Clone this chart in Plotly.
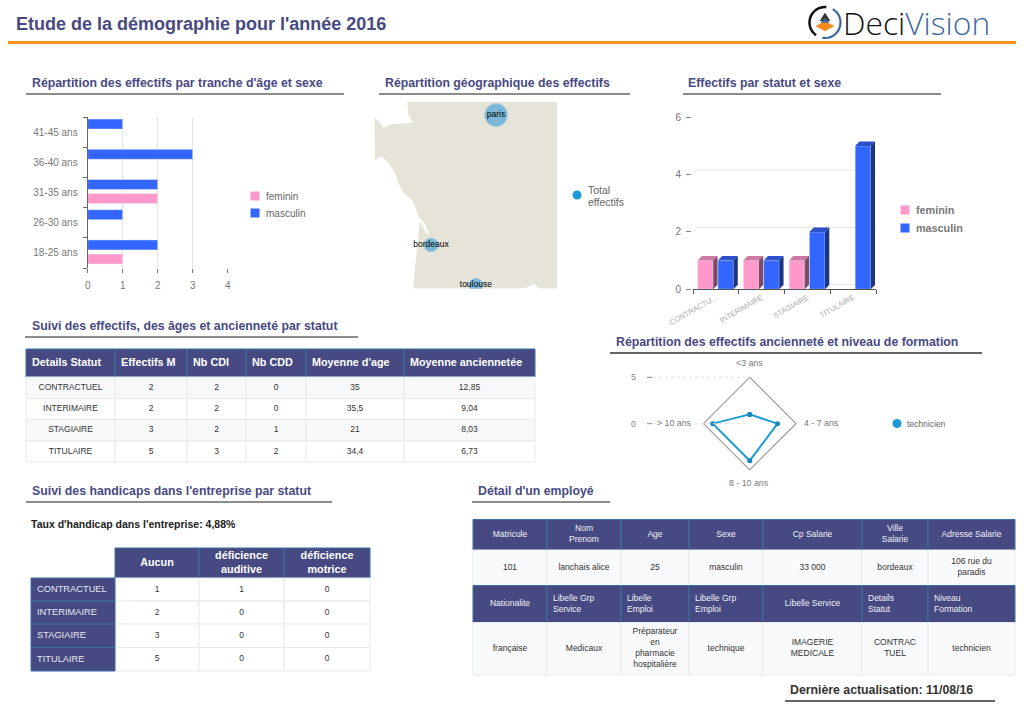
import math
import plotly.graph_objects as go

# ---------- data ----------
age_bands = ["18-25 ans", "26-30 ans", "31-35 ans", "36-40 ans", "41-45 ans"]
age_feminin = [1, None, 2, None, None]
age_masculin = [2, 1, 2, 3, 1]

city_names = ["paris", "bordeaux", "toulouse"]
city_lon = [2.35, -0.58, 1.44]
city_lat = [48.85, 44.84, 43.60]
city_total = [8, 3, 3]
land_lon = [-1.65, 5.11, 5.11, 4.33, 4.03, 3.73, 3.28, -1.38, -1.27, -1.14, -1.08, -0.75, -0.69, -0.85, -1.11,
            -1.23, -1.38, -1.83, -2.05, -2.20, -2.50, -2.80, -3.10, -3.13, -2.88, -2.73, -2.43, -1.38, -1.60, -1.65]
land_lat = [49.25, 49.25, 43.49, 43.49, 43.64, 43.53, 43.49, 43.49, 44.34, 45.26, 45.57, 45.16, 45.21, 45.49, 45.67,
            45.88, 46.19, 46.45, 46.75, 47.06, 47.37, 47.58, 47.47, 48.78, 48.61, 48.45, 48.57, 48.61, 48.86, 49.25]

statuts = ["CONTRACTUEL", "INTERIMAIRE", "STAGIAIRE", "TITULAIRE"]
statut_labels = ["CONTRACTU...", "INTERIMAIRE", "STAGIAIRE", "TITULAIRE"]
statut_feminin = [1, 1, 1, None]
statut_masculin = [1, 1, 2, 5]

radar_axes = ["<3 ans", "4 - 7 ans", "8 - 10 ans", "> 10 ans"]
radar_technicien = [1, 3, 4, 4]

t1_head = ["Details Statut", "Effectifs M", "Nb CDI", "Nb CDD", "Moyenne d'age", "Moyenne anciennetée"]
t1_effectifs = [2, 2, 3, 5]
t1_cdi = [2, 2, 2, 3]
t1_cdd = [0, 0, 1, 2]
t1_age = ["35", "35,5", "21", "34,4"]
t1_anc = ["12,85", "9,04", "8,03", "6,73"]

t2_head = ["Aucun", "déficience<br>auditive", "déficience<br>motrice"]
t2_aucun = [1, 2, 3, 5]
t2_auditive = [1, 0, 0, 0]
t2_motrice = [0, 0, 0, 0]

t3_head = ["Matricule", "Nom<br>Prenom", "Age", "Sexe", "Cp Salarie", "Ville<br>Salarie", "Adresse Salarie"]
t3_vals = ["101", "lanchais alice", "25", "masculin", "33 000", "bordeaux", "106 rue du<br>paradis"]
t4_head = ["Nationalite", "Libelle Grp<br>Service", "Libelle<br>Emploi", "Libelle Grp<br>Emploi",
           "Libelle Service", "Details<br>Statut", "Niveau<br>Formation"]
t4_vals = ["française", "Medicaux", "Préparateur<br>en<br>pharmacie<br>hospitalière", "technique",
           "IMAGERIE<br>MEDICALE", "CONTRAC<br>TUEL", "technicien"]

# ---------- style / layout ----------
W, H = 1024, 711
FONT = "Liberation Sans"
NAVY = "#474a82"
PINK = "#ff99cc"
BLUE = "#3366ff"
CYAN = "#1a9ad6"
HEADLINE = "#3a6f9f"
GRIDC = "#e6e6e6"
CELLLINE = "#eaeaea"


def fx(p):
    return p / W


def fy(p):
    return 1 - p / H


annotations, shapes = [], []


def text(x, y, s, size=10, color="#666666", bold=False, anchor="left"):
    dx = -1 if anchor == "left" else (1 if anchor == "right" else 0)
    annotations.append(dict(x=fx(x + dx), y=fy(y), xref="paper", yref="paper", text=s, showarrow=False,
                            xanchor=anchor, yanchor="middle", borderpad=0,
                            font=dict(family=FONT, size=size, color=color, weight="bold" if bold else "normal")))


def hline(x0, x1, y, color="#666666", width=1.5, dash="solid"):
    shapes.append(dict(type="line", xref="paper", yref="paper", x0=fx(x0), x1=fx(x1), y0=fy(y), y1=fy(y),
                       line=dict(color=color, width=width, dash=dash)))


def section(x, y, s, ux0, ux1, uy, color=NAVY, line="#666666", size=12.3):
    text(x, y, s, size=size, color=color, bold=True)
    hline(ux0, ux1, uy, color=line)


text(15.5, 24, "Etude de la démographie pour l'année 2016", size=18, color=NAVY, bold=True)
hline(8, 1016, 42.5, color="#f7931e", width=3)
section(32, 83, "Répartition des effectifs par tranche d'âge et sexe", 26, 344, 94)
section(385, 83, "Répartition géographique des effectifs", 379, 630, 94)
section(688, 83, "Effectifs par statut et sexe", 683, 941, 94)
section(32, 326, "Suivi des effectifs, des âges et ancienneté par statut", 25, 358, 337)
section(616, 342, "Répartition des effectifs ancienneté et niveau de formation", 610, 982, 353, line="#333333")
section(32, 491, "Suivi des handicaps dans l'entreprise par statut", 26, 332, 502)
section(478, 491, "Détail d'un employé", 472, 610, 502)
text(31, 524, "Taux d'handicap dans l'entreprise: 4,88%", size=10.5, color="#222222", bold=True)
section(790, 690, "Dernière actualisation: 11/08/16", 785, 995, 701, color="#333333", line="#333333")


# logo
def arc(cx, cy, r, a0, a1, color, width):
    pts = []
    n = 24
    for i in range(n + 1):
        a = math.radians(a0 + (a1 - a0) * i / n)
        pts.append((fx(cx + r * math.cos(a)), fy(cy - r * math.sin(a))))
    path = "M" + " L".join(f"{x:.5f},{y:.5f}" for x, y in pts)
    shapes.append(dict(type="path", xref="paper", yref="paper", path=path, line=dict(color=color, width=width)))


def poly(pts, color):
    path = "M" + " L".join(f"{fx(x):.5f},{fy(y):.5f}" for x, y in pts) + " Z"
    shapes.append(dict(type="path", xref="paper", yref="paper", path=path, fillcolor=color,
                       line=dict(color=color, width=0.5)))


arc(825, 22.5, 15.5, 85, 235, "#111111", 2.5)
arc(825, 22.5, 15.5, 60, -100, "#3f6a9e", 2.2)
poly([(825, 13), (830, 21), (820, 21)], "#333333")
poly([(825, 18), (829, 23), (821, 23)], "#3f6a9e")
poly([(816, 26), (822, 23), (828, 23), (834, 26), (825, 31)], "#f58a1f")
annotations.append(dict(x=fx(841), y=fy(23), xref="paper", yref="paper", showarrow=False, xanchor="left",
                        yanchor="middle",
                        text='<span style="color:#111111">Deci</span><span style="color:#3f6a9e">Vision</span>',
                        font=dict(family="Open Sans", size=31.8, weight=300)))

# ---------- figure ----------
fig = go.Figure()

# chart 1: horizontal bars
fig.add_trace(go.Bar(y=age_bands, x=age_feminin, orientation="h", name="feminin", marker_color=PINK,
                     width=0.33, offset=-0.367, xaxis="x", yaxis="y", showlegend=False))
fig.add_trace(go.Bar(y=age_bands, x=age_masculin, orientation="h", name="masculin", marker_color=BLUE,
                     width=0.33, offset=0.1, xaxis="x", yaxis="y", showlegend=False))

# chart 2: map
fig.add_trace(go.Scatter(x=land_lon, y=land_lat, mode="lines", fill="toself", fillcolor="#e6e4d8",
                         line=dict(color="#e6e4d8", width=0), hoverinfo="skip", showlegend=False,
                         xaxis="x2", yaxis="y2"))
fig.add_trace(go.Scatter(x=city_lon, y=city_lat, mode="markers+text", text=city_names, textposition="middle center",
                         textfont=dict(family=FONT, size=8.5, color="#000000"), name="Total effectifs",
                         marker=dict(size=[23 * math.sqrt(v / 8) for v in city_total], color="rgba(40,150,215,0.8)",
                                     line=dict(color="rgba(150,200,230,0.7)", width=1)),
                         xaxis="x2", yaxis="y2", showlegend=False))

# chart 3: pseudo-3D bars
fig.add_trace(go.Bar(x=statut_labels, y=statut_feminin, name="feminin", marker_color=PINK, width=0.341, offset=-0.4,
                     xaxis="x3", yaxis="y3", showlegend=False))
fig.add_trace(go.Bar(x=statut_labels, y=statut_masculin, name="masculin", marker_color=BLUE, width=0.341, offset=0.044,
                     xaxis="x3", yaxis="y3", showlegend=False))
DX, DY = 0.094, 0.157
for v in (0, 2, 4, 6):
    shapes.append(dict(type="path", xref="x3", yref="y3", layer="below",
                       path=f"M-0.5,{v} L{-0.5 + DX},{v + DY} L{3.5 + DX},{v + DY}",
                       line=dict(color=GRIDC, width=1)))
for series, off, top, side in ((statut_feminin, -0.4, "#cc7aa3", "#7a4a66"),
                               (statut_masculin, 0.044, "#2a50cc", "#1b3580")):
    for i, v in enumerate(series):
        if v is None:
            continue
        x0, x1 = i + off, i + off + 0.341
        shapes.append(dict(type="path", xref="x3", yref="y3", fillcolor=top, line=dict(width=0),
                           path=f"M{x0},{v} L{x0 + DX},{v + DY} L{x1 + DX},{v + DY} L{x1},{v} Z"))
        shapes.append(dict(type="path", xref="x3", yref="y3", fillcolor=side, line=dict(width=0),
                           path=f"M{x1},0 L{x1 + DX},{DY} L{x1 + DX},{v + DY} L{x1},{v} Z"))

# chart 4: radar
fig.add_trace(go.Scatterpolar(r=radar_technicien + radar_technicien[:1], theta=radar_axes + radar_axes[:1],
                              mode="lines+markers", name="technicien", subplot="polar", showlegend=False,
                              line=dict(color=CYAN, width=2), marker=dict(color="#1a86c0", size=5)))
for v, y in ((5, 377.3), (0, 423.7)):
    text(633.5, y, str(v), size=9, color="#888888", anchor="center")
    hline(647, 652, y, color="#888888", width=1)
    hline(653, 749.7, y, color="#dddddd", width=1, dash="dot")
text(749.5, 363, radar_axes[0], size=8.8, color="#777777", anchor="center")
text(804, 423, radar_axes[1], size=8.8, color="#777777")
text(749, 483, radar_axes[2], size=8.8, color="#777777", anchor="center")
annotations.append(dict(x=fx(693), y=fy(423), xref="paper", yref="paper", text=radar_axes[3], showarrow=False,
                        xanchor="right", yanchor="middle", bgcolor="#ffffff", borderpad=0,
                        font=dict(family=FONT, size=8.8, color="#777777")))


# page-wide helper axes (x4/y4) on which tables and legend keys are laid out
def cell(x0, x1, y0, y1, fill, line):
    shapes.append(dict(type="rect", xref="x4", yref="y4", layer="below", x0=x0, x1=x1, y0=y0, y1=y1,
                       fillcolor=fill, line=dict(color=line, width=1)))


def labels(xs, ys, strs, size, color, bold=False, pos="middle center"):
    fig.add_trace(go.Scatter(x=xs, y=ys, text=[str(s) for s in strs], mode="text", textposition=pos, hoverinfo="skip",
                             showlegend=False, xaxis="x4", yaxis="y4",
                             textfont=dict(family=FONT, size=size, color=color, weight="bold" if bold else "normal")))


def centers(edges):
    return [(a + b) / 2 for a, b in zip(edges, edges[1:])]


# table 1
X1 = [26, 115, 187, 246, 306, 404, 535]
Y1 = [349, 377, 398.5, 419.5, 441, 462]
ROWFILL = ["#f7f8f9", "#ffffff", "#f7f8f9", "#ffffff"]
for a, b in zip(X1, X1[1:]):
    cell(a, b, Y1[0], Y1[1], NAVY, HEADLINE)
    for r in range(4):
        cell(a, b, Y1[r + 1], Y1[r + 2], ROWFILL[r], CELLLINE)
labels([a + 6 for a in X1[:-1]], [(Y1[0] + Y1[1]) / 2] * 6, t1_head, 10.8, "white", True, "middle right")
for cx, col in zip(centers(X1), [statuts, t1_effectifs, t1_cdi, t1_cdd, t1_age, t1_anc]):
    labels([cx] * 4, centers(Y1[1:]), col, 8.5, "#333333")

# table 2
X2 = [31, 115, 199, 284, 370]
Y2 = [548, 578, 601, 624, 647.5, 671]
for a, b in zip(X2[1:], X2[2:]):
    cell(a, b, Y2[0], Y2[1], NAVY, HEADLINE)
    for r in range(4):
        cell(a, b, Y2[r + 1], Y2[r + 2], "#ffffff", CELLLINE)
for r in range(4):
    cell(X2[0], X2[1], Y2[r + 1], Y2[r + 2], NAVY, HEADLINE)
labels(centers(X2[1:]), [(Y2[0] + Y2[1]) / 2] * 3, t2_head, 10.8, "white", True)
labels([X2[0] + 6] * 4, centers(Y2[1:]), statuts, 9.3, "#e8e8f0", False, "middle right")
for cx, col in zip(centers(X2[1:]), [t2_aucun, t2_auditive, t2_motrice]):
    labels([cx] * 4, centers(Y2[1:]), col, 8.5, "#333333")

# table 3 (employee detail)
X3 = [473, 547, 621, 689, 763, 862, 928, 1015]
Y3 = [519.5, 550, 585.5, 622.5, 675]
for a, b in zip(X3, X3[1:]):
    cell(a, b, Y3[0], Y3[1], NAVY, HEADLINE)
    cell(a, b, Y3[1], Y3[2], "#f9fafb", CELLLINE)
    cell(a, b, Y3[2], Y3[3], NAVY, HEADLINE)
    cell(a, b, Y3[3], Y3[4], "#f9fafb", CELLLINE)
C3 = centers(X3)
labels(C3, [(Y3[0] + Y3[1]) / 2] * 7, t3_head, 8.5, "#f0f0f5")
labels(C3, [(Y3[1] + Y3[2]) / 2] * 7, t3_vals, 8.5, "#333333")
head_center = [0, 4]
head_left = [1, 2, 3, 5, 6]
labels([C3[i] for i in head_center], [(Y3[2] + Y3[3]) / 2] * 2, [t4_head[i] for i in head_center], 8.5, "#f0f0f5")
labels([X3[i] + 6 for i in head_left], [(Y3[2] + Y3[3]) / 2] * 5, [t4_head[i] for i in head_left], 8.5, "#f0f0f5",
       False, "middle right")
labels(C3, [(Y3[3] + Y3[4]) / 2] * 7, t4_vals, 8.5, "#333333")


# legends
def key(x, y, color, symbol, size=9):
    fig.add_trace(go.Scatter(x=[x], y=[y], mode="markers", hoverinfo="skip", showlegend=False, xaxis="x4", yaxis="y4",
                             marker=dict(symbol=symbol, size=size, color=color, line=dict(width=0))))


key(255, 196, PINK, "square")
key(255, 213, BLUE, "square")
text(266, 196, "feminin", size=10)
text(266, 213, "masculin", size=10)
key(577, 195, CYAN, "circle", 9)
text(588, 190, "Total", size=10.5)
text(588, 202, "effectifs", size=10.5)
key(905, 210, PINK, "square")
key(905, 228, BLUE, "square")
text(916, 210.5, "feminin", size=10.8, color="#777777", bold=True)
text(916, 228, "masculin", size=10.8, color="#777777", bold=True)
key(897, 423.5, CYAN, "circle", 9)
text(907, 423.5, "technicien", size=8.5)

fig.update_layout(
    width=W, height=H, autosize=False, margin=dict(l=0, r=0, t=0, b=0, autoexpand=False),
    paper_bgcolor="white", plot_bgcolor="rgba(0,0,0,0)",
    font=dict(family=FONT), barmode="overlay", annotations=annotations, shapes=shapes, showlegend=False,
    xaxis=dict(domain=[fx(87.7), fx(227.7)], range=[0, 4], anchor="y", tickvals=[0, 1, 2, 3, 4], ticks="outside",
               ticklen=4, tickcolor="#777777", showgrid=True, gridcolor=GRIDC, zeroline=False, showline=False,
               tickfont=dict(size=10, color="#777777"), ticklabelstandoff=4),
    yaxis=dict(domain=[fy(268), fy(117)], anchor="x", type="category", tickson="boundaries", ticks="outside", ticklen=4,
               tickcolor="#666666", showline=True, linecolor="#666666", linewidth=1, showgrid=False,
               tickfont=dict(size=10, color="#777777"), ticklabelstandoff=7),
    xaxis2=dict(domain=[fx(374.3), fx(557.3)], range=[-3.134, 5.109], anchor="y2", visible=False),
    yaxis2=dict(domain=[fy(288.7), fy(102)], range=[43.491, 49.253], anchor="x2", visible=False),
    xaxis3=dict(domain=[fx(693), fx(876)], range=[-0.5, 3.5], anchor="y3", type="category", tickson="boundaries",
                ticks="outside", ticklen=4, tickcolor="#555555", showline=True, linecolor="#555555", linewidth=1,
                tickangle=-30, tickfont=dict(size=7.5, color="#aaaaaa"), showgrid=False, zeroline=False),
    yaxis3=dict(domain=[fy(289.3), fy(117.2)], range=[0, 6], anchor="free", position=fx(691), tickvals=[0, 2, 4, 6],
                ticks="outside", ticklen=5, tickcolor="#888888", showline=False, showgrid=False, zeroline=False,
                tickfont=dict(size=10, color="#777777"), ticklabelstandoff=3),
    xaxis4=dict(domain=[0, 1], range=[0, W], anchor="y4", visible=False, fixedrange=True),
    yaxis4=dict(domain=[0, 1], range=[H, 0], anchor="x4", visible=False, fixedrange=True),
    polar=dict(domain=dict(x=[fx(703.5), fx(796)], y=[fy(470), fy(377.3)]), gridshape="linear", bgcolor="rgba(0,0,0,0)",
               radialaxis=dict(range=[0, 5], visible=True, tickvals=[5], showticklabels=False, ticks="",
                               showline=False, showgrid=False),
               angularaxis=dict(direction="clockwise", rotation=90, type="category", categoryarray=radar_axes,
                                showgrid=False, showline=True, linecolor="#a0a0a0", linewidth=1.3, ticks="",
                                showticklabels=False)),
)

fig.write_html("out.html", config={"displayModeBar": False},
               post_script="document.body.style.margin='0';document.body.style.overflow='hidden';")
